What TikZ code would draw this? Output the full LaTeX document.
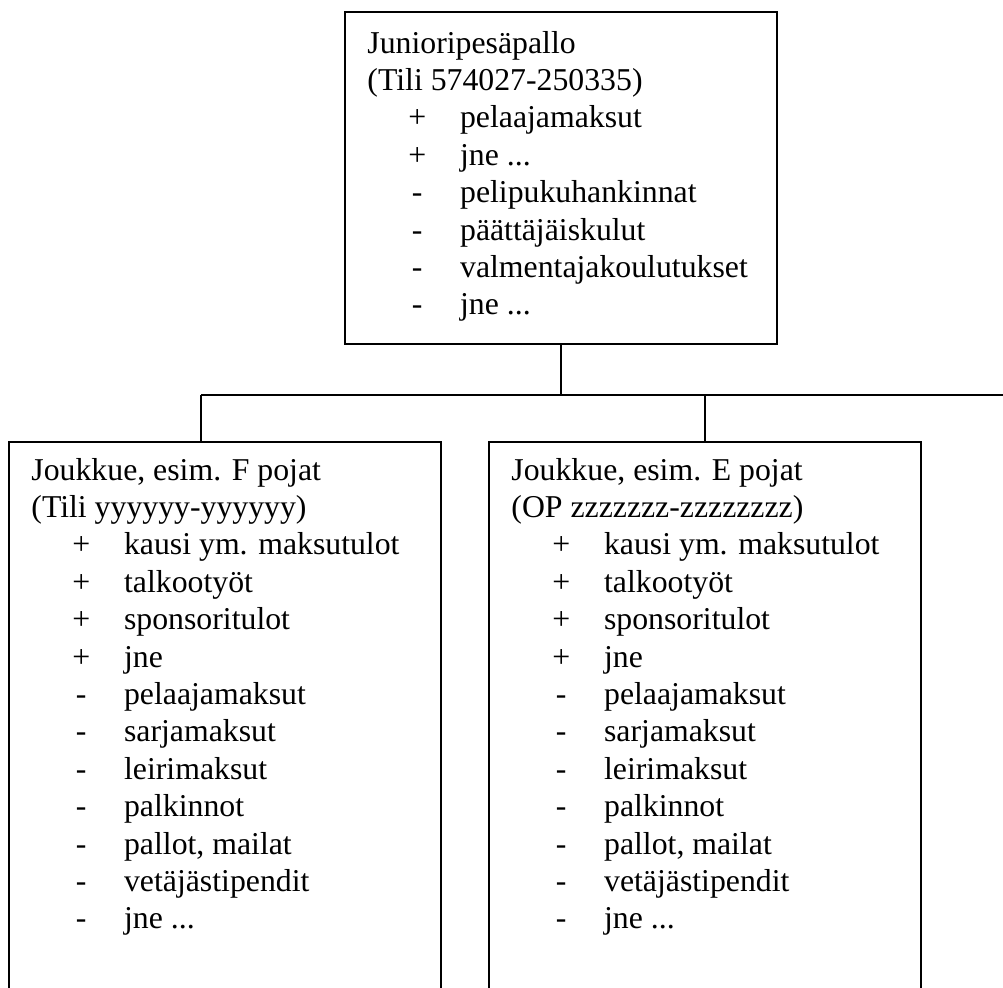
\documentclass[tikz,border=0pt]{standalone}
\usepackage{fontspec}
\setmainfont{Liberation Serif}
\newcommand\lst[2]{\hspace*{22.4pt}\makebox[0pt][c]{#1}\hspace*{19.3pt}#2}
\begin{document}
\begin{tikzpicture}[x=0.45pt,y=-0.45pt,
  box/.style={draw,line width=0.85pt,rectangle,inner sep=0pt},
  conn/.style={draw,line width=0.85pt},
  txt/.style={inner sep=0pt,align=left,anchor=north west,font=\fontsize{14.3}{16.83}\selectfont}]
\useasboundingbox (0,0) rectangle (1003,987);
\clip (0,0) rectangle (1003,987);
\node[box,minimum width=194.4pt,minimum height=149.4pt] (top) at (561,178) {};
\node[box,minimum width=194.4pt,minimum height=296.1pt] (left) at (225,771) {};
\node[box,minimum width=194.4pt,minimum height=296.1pt] (right) at (705,771) {};
\coordinate (hub) at (561,395);
\coordinate (lj) at (201,395);
\coordinate (rj) at (705,395);
\coordinate (rend) at (1004,395);
\draw[conn] (top.south) -- (hub);
\draw[conn] (lj) -- (rend);
\draw[conn] (lj) -- (lj |- left.north);
\draw[conn] (rj) -- (right.north);
\node[txt] (toptext) at (367,30.5) {Junioripesäpallo\\(Tili 574027-250335)\\
\lst{+}{pelaajamaksut}\\
\lst{+}{jne ...}\\
\lst{-}{pelipukuhankinnat}\\
\lst{-}{päättäjäiskulut}\\
\lst{-}{valmentajakoulutukset}\\
\lst{-}{jne ...}};
\node[txt] (lefttext) at (31,457.5) {Joukkue, esim. F pojat\\(Tili yyyyyy-yyyyyy)\\
\lst{+}{kausi ym. maksutulot}\\
\lst{+}{talkootyöt}\\
\lst{+}{sponsoritulot}\\
\lst{+}{jne}\\
\lst{-}{pelaajamaksut}\\
\lst{-}{sarjamaksut}\\
\lst{-}{leirimaksut}\\
\lst{-}{palkinnot}\\
\lst{-}{pallot, mailat}\\
\lst{-}{vetäjästipendit}\\
\lst{-}{jne ...}};
\node[txt] (righttext) at (511,457.5) {Joukkue, esim. E pojat\\(OP zzzzzzz-zzzzzzzz)\\
\lst{+}{kausi ym. maksutulot}\\
\lst{+}{talkootyöt}\\
\lst{+}{sponsoritulot}\\
\lst{+}{jne}\\
\lst{-}{pelaajamaksut}\\
\lst{-}{sarjamaksut}\\
\lst{-}{leirimaksut}\\
\lst{-}{palkinnot}\\
\lst{-}{pallot, mailat}\\
\lst{-}{vetäjästipendit}\\
\lst{-}{jne ...}};
\end{tikzpicture}
\end{document}
